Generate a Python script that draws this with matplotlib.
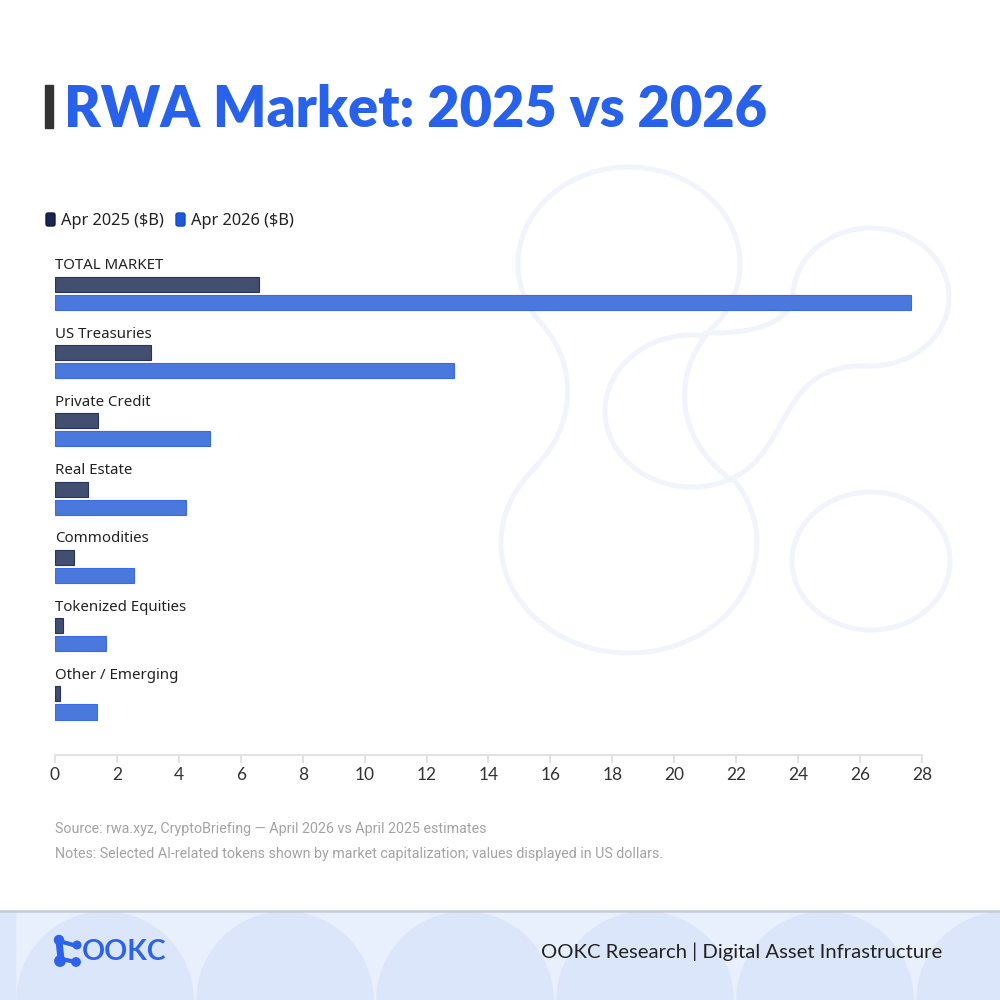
import numpy as np
import matplotlib.pyplot as plt
from matplotlib.path import Path
from matplotlib.patches import PathPatch, Wedge, Rectangle, FancyBboxPatch, Ellipse

# data ($B)
categories = ["TOTAL MARKET", "US Treasuries", "Private Credit", "Real Estate",
              "Commodities", "Tokenized Equities", "Other / Emerging"]
apr_2025 = [6.6, 3.1, 1.4, 1.05, 0.6, 0.27, 0.15]
apr_2026 = [27.65, 12.87, 5.0, 4.22, 2.55, 1.65, 1.35]
series_names = ["Apr 2025 ($B)", "Apr 2026 ($B)"]
x_ticks = list(range(0, 29, 2))

C_2025 = "#434f70"
C_2025_EDGE = "#27335a"
C_2026 = "#4a78dc"
C_2026_EDGE = "#3a6ae6"
TITLE_BLUE = "#2962ea"
DECOR = "#f2f4fc"

fig = plt.figure(figsize=(10, 10), dpi=100)
fig.patch.set_facecolor("white")

# background layer in pixel coordinates (y grows downwards)
bg = fig.add_axes([0, 0, 1, 1], zorder=0)
bg.set_xlim(0, 1000)
bg.set_ylim(1000, 0)
bg.axis("off")


def arc_pts(cx, cy, rx, ry, t0, t1, n=200):
    t = np.radians(np.linspace(t0, t1, n))
    return cx + rx * np.cos(t), cy - ry * np.sin(t)


def bezier(p0, p1, p2, p3):
    path = Path([p0, p1, p2, p3], [Path.MOVETO, Path.CURVE4, Path.CURVE4, Path.CURVE4])
    bg.add_patch(PathPatch(path, fill=False, ec=DECOR, lw=3.6, capstyle="round"))


# faint decorative outline shapes behind the chart
for (cx, cy, rx, ry, t0, t1) in [(629, 264, 111, 97, -40, 215),
                                 (629, 543, 128, 110, 136, 396),
                                 (692, 411, 87, 76, 82, 300),
                                 (871, 297, 78, 69, -95, 180)]:
    xs, ys = arc_pts(cx, cy, rx, ry, t0, t1)
    bg.plot(xs, ys, color=DECOR, lw=3.6, solid_capstyle="round")
bg.add_patch(Ellipse((871, 561), 158, 138, fill=False, ec=DECOR, lw=3.6))
bezier((538, 320), (578, 360), (578, 425), (535, 467))
bezier((714, 326), (676, 365), (668, 432), (731, 480))
bezier((793, 297), (790, 318), (765, 334), (705, 333))
bezier((733, 478), (792, 450), (778, 362), (868, 366))

# title with dark marker bar
bg.add_patch(Rectangle((45, 85), 8, 43, color="#333333"))
bg.text(64, 127, "RWA Market: 2025 vs 2026", fontsize=40.2, fontweight="heavy",
        family="Lato", color=TITLE_BLUE, va="baseline", ha="left")

# legend
for x0, name, fc, ec in [(45, series_names[0], "#1b2650", "#0f1a3f"),
                         (175, series_names[1], "#1f57d9", "#1448c8")]:
    bg.add_patch(FancyBboxPatch((x0 + 1, 213), 9, 13, boxstyle="round,pad=0,rounding_size=2",
                                fc=fc, ec=ec, lw=1))
    bg.text(x0 + 16, 221, name, fontsize=11.8, family="Noto Sans", color="#222222",
            va="center", ha="left")

# source / notes
bg.text(55, 829, "Source: rwa.xyz, CryptoBriefing \u2014 April 2026 vs April 2025 estimates",
        fontsize=10.3, family="Roboto", color="#a3a3a3", va="center")
bg.text(55, 854, "Notes: Selected AI-related tokens shown by market capitalization; values displayed in US dollars.",
        fontsize=10.3, family="Roboto", color="#a3a3a3", va="center")

# footer band with soft arches
bg.add_patch(Rectangle((0, 911), 1000, 89, color="#e8effd", zorder=1))
for i, x0 in enumerate(range(15, 1000, 90)):
    if i % 2 == 0:
        bg.add_patch(Wedge((x0 + 90, 1000), 88, 180, 270, color="#dce6fb", zorder=1))
    else:
        bg.add_patch(Wedge((x0, 1000), 88, 270, 360, color="#dce6fb", zorder=1))
bg.add_patch(Rectangle((0, 911), 15, 89, color="#dde7fb", zorder=1))
bg.plot([0, 1000], [910.5, 910.5], color="#c5cad6", lw=1.8, zorder=2)

# footer logo
logo_blue = "#2d63ea"
bg.plot([59, 61], [941, 959], color=logo_blue, lw=5, solid_capstyle="round", zorder=3)
bg.plot([59, 77], [941, 946], color=logo_blue, lw=3, solid_capstyle="round", zorder=3)
bg.plot([61, 76], [959, 962], color=logo_blue, lw=3, solid_capstyle="round", zorder=3)
for (cx, cy, r) in [(59, 940, 4.5), (77, 945, 3.8), (60, 961, 5.2), (76, 962, 4.2)]:
    bg.add_patch(Ellipse((cx, cy), 2 * r, 2 * r, color=logo_blue, zorder=3))
bg.text(82, 952, "OOKC", fontsize=20.5, fontweight="bold", family="Lato", color=logo_blue,
        va="center", ha="left", zorder=3)
bg.text(942, 952, "OOKC Research | Digital Asset Infrastructure", fontsize=14.6,
        family="Lato", color="#222222", va="center", ha="right", zorder=3)

# main bar chart
ax = fig.add_axes([0.055, 0.245, 0.867, 0.505], zorder=1)
ax.patch.set_alpha(0)
pos = np.arange(len(categories))
h = 0.22
ax.barh(pos - 0.132, apr_2025, height=h, color=C_2025, edgecolor=C_2025_EDGE, lw=0.8)
ax.barh(pos + 0.132, apr_2026, height=h, color=C_2026, edgecolor=C_2026_EDGE, lw=0.8)
for p, name in zip(pos, categories):
    ax.text(0, p - 0.405, name, fontsize=10.8, family="Noto Sans", color="#222222",
            va="center", ha="left")

ax.set_xlim(0, 28)
ax.set_ylim(6.762, -0.637)
ax.set_xticks(x_ticks)
ax.set_yticks([])
for s in ["left", "right", "top"]:
    ax.spines[s].set_visible(False)
ax.spines["bottom"].set_color("#e3e3e3")
ax.spines["bottom"].set_linewidth(1.5)
ax.tick_params(axis="x", length=6, width=1.2, color="#dddddd", labelcolor="#333333",
               labelsize=12.5, pad=3)
for lbl in ax.get_xticklabels():
    lbl.set_family("Lato")

fig.savefig("out.png", dpi=100, facecolor="white")
